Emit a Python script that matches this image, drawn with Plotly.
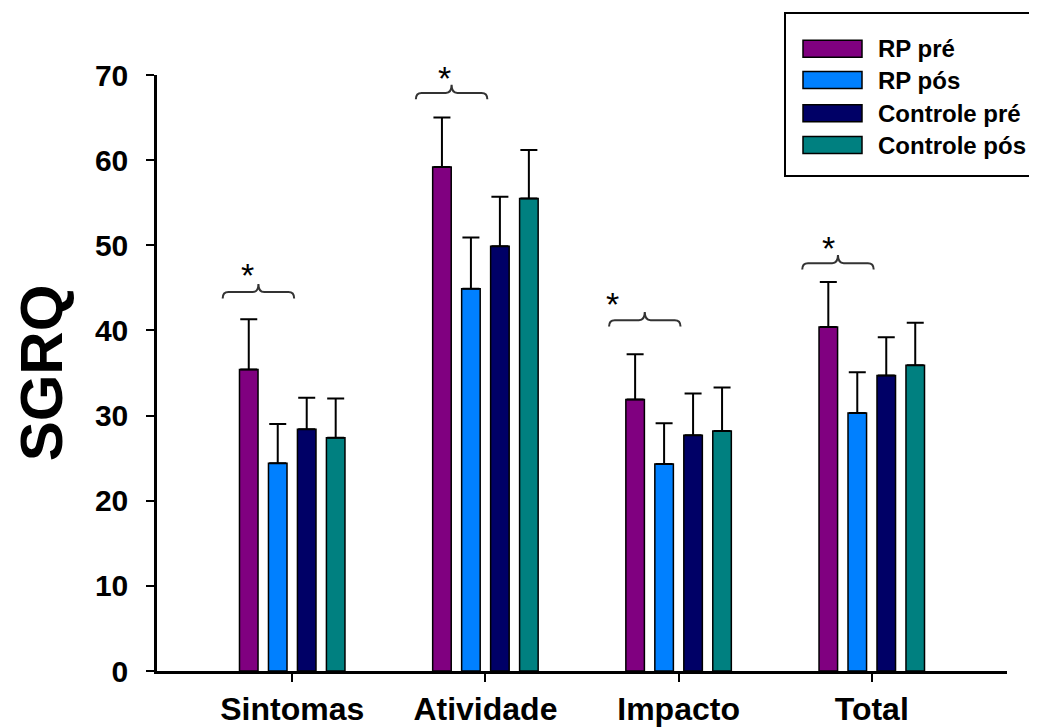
import plotly.graph_objects as go

# ---------------- data ----------------
categories = ["Sintomas", "Atividade", "Impacto", "Total"]
series_names = ["RP pré", "RP pós", "Controle pré", "Controle pós"]
rp_pre = [35.4, 59.2, 31.9, 40.4]
rp_pre_err = [5.9, 5.8, 5.3, 5.3]
rp_pos = [24.4, 44.9, 24.3, 30.3]
rp_pos_err = [4.6, 6.0, 4.8, 4.8]
ctrl_pre = [28.4, 49.9, 27.7, 34.7]
ctrl_pre_err = [3.7, 5.8, 4.9, 4.5]
ctrl_pos = [27.4, 55.5, 28.2, 35.9]
ctrl_pos_err = [4.6, 5.7, 5.1, 5.0]
bracket_level = [44.5, 67.9, 41.2, 47.9]
star_level = [47.3, 70.5, 43.9, 50.5]
y_ticks = [0, 10, 20, 30, 40, 50, 60, 70]
y_max = 70
y_title = "SGRQ"

colors = ["#800080", "#0080FF", "#000066", "#008080"]
FONT = "Arial, Liberation Sans, sans-serif"

# page body margin of 8px offsets the figure; compensate
OFF = 8
W, H = 1037 - OFF, 727 - OFF
L, R, T, B = 157 - OFF, 30, 75 - OFF, 56
pw, ph = W - L - R, H - T - B


def px_x(px):
    return (px - OFF - L) / pw


def px_y(py):
    return (H - B - (py - OFF)) / ph


x = list(range(len(categories)))
fig = go.Figure()
all_vals = [rp_pre, rp_pos, ctrl_pre, ctrl_pos]
all_errs = [rp_pre_err, rp_pos_err, ctrl_pre_err, ctrl_pos_err]
for name, vals, errs, col in zip(series_names, all_vals, all_errs, colors):
    fig.add_bar(
        x=x, y=vals, name=name, showlegend=False,
        marker=dict(color=col, line=dict(color="black", width=1.5)),
        error_y=dict(type="data", array=errs, arrayminus=[0] * len(errs),
                     symmetric=False, thickness=2, width=8.5, color="black"),
    )

# significance brackets and stars
star_dx = [-0.23, -0.21, -0.34, -0.225]
shapes = []
annotations = []
for i, (yb, ys) in enumerate(zip(bracket_level, star_level)):
    x0, x1 = i - 0.36, i + 0.01
    xc = (x0 + x1) / 2
    drop, tip, dx = 0.75, 0.95, 0.03
    path = (f"M {x0},{yb - drop} Q {x0},{yb} {x0 + dx},{yb} "
            f"L {xc - dx},{yb} Q {xc},{yb} {xc},{yb + tip} "
            f"Q {xc},{yb} {xc + dx},{yb} L {x1 - dx},{yb} "
            f"Q {x1},{yb} {x1},{yb - drop}")
    shapes.append(dict(type="path", path=path, xref="x", yref="y",
                       line=dict(color="#333333", width=2)))
    annotations.append(dict(x=i + star_dx[i], y=ys / y_max, xref="x", yref="paper",
                            xanchor="center", yanchor="middle",
                            text="*", showarrow=False, yshift=-7,
                            font=dict(family=FONT, size=34, color="black")))

# legend (drawn manually to match wide swatches)
shapes.append(dict(type="rect", xref="paper", yref="paper",
                   x0=px_x(785), x1=px_x(1050), y0=px_y(176), y1=px_y(13),
                   line=dict(color="black", width=2), fillcolor="white"))
row_centers = [48.7, 80, 113.3, 145]
for name, col, rc in zip(series_names, colors, row_centers):
    shapes.append(dict(type="rect", xref="paper", yref="paper",
                       x0=px_x(803), x1=px_x(862), y0=px_y(rc + 8.5), y1=px_y(rc - 8.5),
                       line=dict(color="black", width=1.5), fillcolor=col))
    annotations.append(dict(x=px_x(876), y=px_y(rc), xref="paper", yref="paper",
                            xanchor="left", yanchor="middle", text=name,
                            showarrow=False,
                            font=dict(family=FONT, size=24, color="black", weight="bold")))

fig.update_layout(
    width=W, height=H,
    margin=dict(l=L, r=R, t=T, b=B, autoexpand=False),
    paper_bgcolor="white", plot_bgcolor="white",
    barmode="group", bargap=0.4, bargroupgap=0.36,
    shapes=shapes, annotations=annotations,
    font=dict(family=FONT, color="black"),
)
fig.update_xaxes(
    range=[-0.7, 3.7], tickmode="array", tickvals=x, ticktext=categories,
    showline=True, linecolor="black", linewidth=2.5,
    ticks="outside", ticklen=8, tickwidth=2, tickcolor="black",
    tickfont=dict(family=FONT, size=32, color="black", weight="bold"),
    showgrid=False, zeroline=False,
)
fig.update_yaxes(
    range=[0, y_max], tickmode="array", tickvals=y_ticks,
    showline=True, linecolor="black", linewidth=2.5,
    ticks="outside", ticklen=8, tickwidth=2, tickcolor="black",
    tickfont=dict(family=FONT, size=30, color="black", weight="bold"),
    ticklabelstandoff=12,
    showgrid=False, zeroline=False,
    title=dict(text=y_title, standoff=42,
               font=dict(family=FONT, size=60, color="black", weight="bold")),
)

fig.write_html("out.html")
